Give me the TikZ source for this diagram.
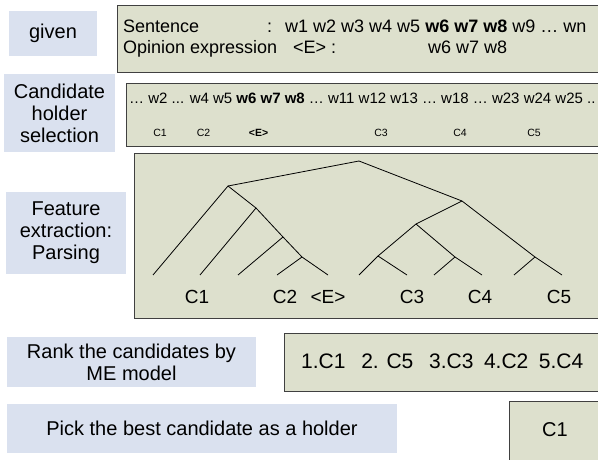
\documentclass[tikz,border=0pt]{standalone}
\usepackage{fontspec}
\setmainfont{Liberation Sans}
\usepackage{xcolor}

\definecolor{labblue}{RGB}{218,225,239}
\definecolor{boxgreen}{RGB}{221,224,205}

\begin{document}
\begin{tikzpicture}[x=1pt, y=-1pt, every node/.style={inner sep=0pt},
    lab/.style={fill=labblue, align=center, font=\fontsize{20}{22}\selectfont},
    gbox/.style={draw=black!75, fill=boxgreen, line width=1.2pt, anchor=north west},
    txt/.style={anchor=base west, font=\fontsize{18}{22}\selectfont},
    sml/.style={anchor=base, font=\fontsize{10.5}{12}\selectfont},
    leaf/.style={font=\fontsize{19}{22}\selectfont},
    tree/.style={line width=0.8pt}]
    \useasboundingbox (0,0) rectangle (598,460);

    % step labels
    \node[lab, minimum width=88pt, minimum height=45pt] (given) at (53,33.5) {given};
    \node[lab, minimum width=111pt, minimum height=78pt] (cand) at (59.5,113) {Candidate\\holder\\selection};
    \node[lab, minimum width=120pt, minimum height=82pt] (feat) at (66,233) {Feature\\extraction:\\Parsing};
    \node[lab, minimum width=249pt, minimum height=50pt] (rank) at (131.5,362) {Rank the candidates by\\ME model};
    \node[lab, minimum width=390pt, minimum height=49pt] (pick) at (202,428.5) {Pick the best candidate as a holder};

    % boxes
    \node[gbox, minimum width=493pt, minimum height=67pt] (sbox) at (117,5) {};
    \node[gbox, minimum width=484pt, minimum height=63pt] (cbox) at (126,83) {};
    \node[gbox, minimum width=476pt, minimum height=165pt] (tbox) at (134,153) {};
    \node[gbox, minimum width=326pt, minimum height=58pt] (rbox) at (284,333) {};
    \node[gbox, minimum width=101pt, minimum height=64pt] (bbox) at (509,401) {};

    \node[txt] (sname) at (123,33) {Sentence};
    \node[txt] (scol) at (267,33) {:};
    \node[txt] (swords) at (285,33) {w1 w2 w3 w4 w5 \textbf{w6 w7 w8} w9 … wn};
    \node[txt] (oname) at (123,54) {Opinion expression};
    \node[txt] (oexp) at (293,54) {<E>};
    \node[txt] (ocol) at (331,54) {:};
    \node[txt] (owords) at (428,54) {w6 w7 w8};

    \node[txt, font=\fontsize{15}{18}\selectfont] (cwords) at (129,104) {… w2 ... w4 w5 \textbf{w6 w7 w8} … w11 w12 w13 … w18 … w23 w24 w25 ..};
    \foreach \n/\t/\x in {c1/C1/160, c2/C2/203.5, ce/\textbf{<E>}/258.5, c3/C3/381, c4/C4/460, c5/C5/534}
        \node[sml] (\n) at (\x,137) {\t};

    % parse tree
    \coordinate (root) at (359,161);
    \coordinate (a) at (228,186);
    \coordinate (a1) at (256,208);
    \coordinate (a2) at (283,237);
    \coordinate (a3) at (302,257);
    \coordinate (b) at (462,201);
    \coordinate (b1) at (416,224);
    \coordinate (b11) at (378,256);
    \coordinate (b12) at (455,257);
    \coordinate (b2) at (535,257);
    \foreach \n/\x in {1/153, 2/200, 3/238, 4/277, 5/328, 6/359, 7/407, 8/434, 9/482, 10/514, 11/562}
        \coordinate (l\n) at (\x,275);
    \draw[tree] (root) -- (a) -- (l1);
    \draw[tree] (root) -- (b) -- (b2) -- (l11);
    \draw[tree] (a) -- (a1) -- (a2) -- (a3) -- (l5);
    \draw[tree] (a1) -- (l2);
    \draw[tree] (a2) -- (l3);
    \draw[tree] (a3) -- (l4);
    \draw[tree] (b) -- (b1) -- (b11) -- (l6);
    \draw[tree] (b11) -- (l7);
    \draw[tree] (b1) -- (b12) -- (l9);
    \draw[tree] (b12) -- (l8);
    \draw[tree] (b2) -- (l10);
    \node[leaf] (t1) at (197,297) {C1};
    \node[leaf] (t2) at (285,297) {C2};
    \node[leaf] (te) at (328,297) {<E>};
    \node[leaf] (t3) at (412,297) {C3};
    \node[leaf] (t4) at (480,297) {C4};
    \node[leaf] (t5) at (559,297) {C5};

    \node[txt, font=\fontsize{21}{24}\selectfont] (order) at (301,368) {1.C1\hspace{.75em}2. C5\hspace{.75em}3.C3\hspace{.5em}4.C2\hspace{.5em}5.C4};
    \node[font=\fontsize{20}{24}\selectfont] (best) at (555,430) {C1};
\end{tikzpicture}
\end{document}
